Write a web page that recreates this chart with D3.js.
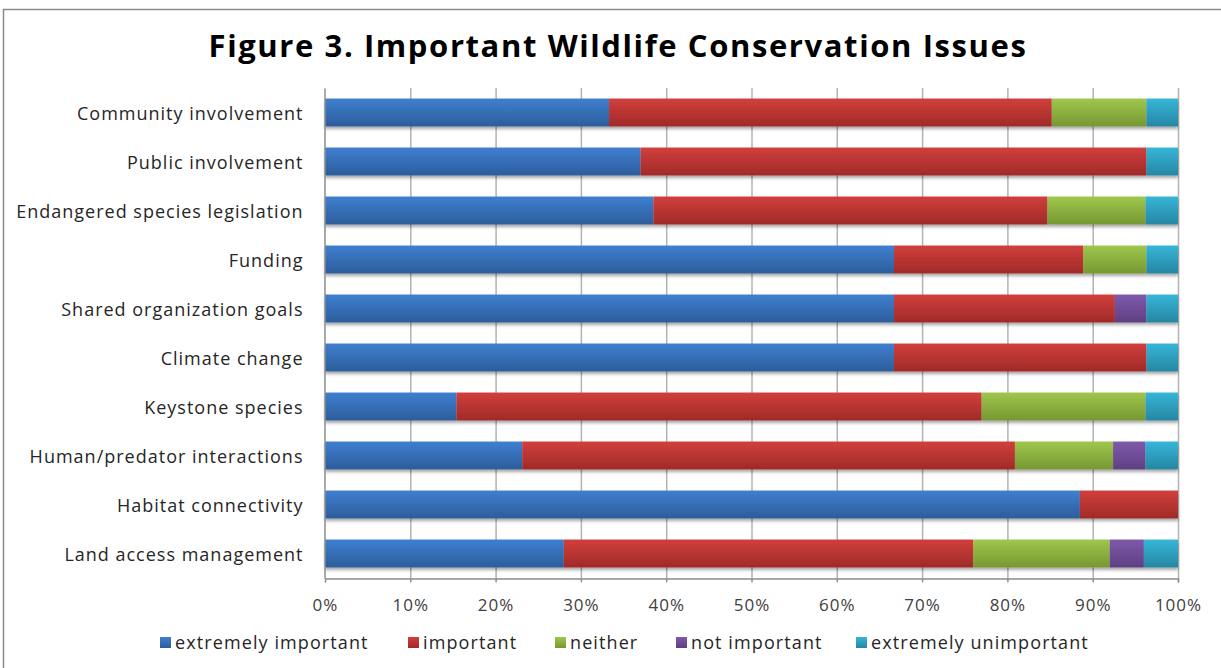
<!DOCTYPE html>
<html>
<head>
<meta charset="utf-8">
<script src="https://cdn.jsdelivr.net/npm/d3@7"></script>
<style>
  body { margin: 0; background: #fff; }
  svg { display: block; font-family: "Open Sans", sans-serif; }
</style>
</head>
<body>
<svg id="chart"></svg>
<script>
// DATA
const categories = [
  "Community involvement",
  "Public involvement",
  "Endangered species legislation",
  "Funding",
  "Shared organization goals",
  "Climate change",
  "Keystone species",
  "Human/predator interactions",
  "Habitat connectivity",
  "Land access management"
];
const seriesNames = ["extremely important", "important", "neither", "not important", "extremely unimportant"];
const extremelyImportant   = [33.3, 37.0, 38.5, 66.7, 66.7, 66.7, 15.4, 23.1, 88.5, 28.0];
const important            = [51.9, 59.3, 46.2, 22.2, 25.9, 29.6, 61.5, 57.7, 11.5, 48.0];
const neither              = [11.1, 0,    11.5, 7.4,  0,    0,    19.2, 11.5, 0,    16.0];
const notImportant         = [0,    0,    0,    0,    3.7,  0,    0,    3.8,  0,    4.0];
const extremelyUnimportant = [3.7,  3.7,  3.8,  3.7,  3.7,  3.7,  3.8,  3.8,  0,    4.0];
const xTicks = [0, 10, 20, 30, 40, 50, 60, 70, 80, 90, 100];

// colours: [top, bottom] of each bar gradient
const colors = [
  ["#3f7fd0", "#2c5d9b"],
  ["#d13f3c", "#a02a28"],
  ["#9fc74c", "#779733"],
  ["#7f59aa", "#5f3f83"],
  ["#36b6d8", "#2686a3"]
];

const width = 1221, height = 668;
const margin = { top: 88, right: 43, bottom: 90, left: 325 };

const svg = d3.select("#chart").attr("width", width).attr("height", height);

// frame
svg.append("rect")
  .attr("x", 3.5).attr("y", 9.5)
  .attr("width", 1240).attr("height", 700)
  .attr("fill", "#fff").attr("stroke", "#8c8c8c").attr("stroke-width", 1.5);

const defs = svg.append("defs");
colors.forEach((c, i) => {
  const g = defs.append("linearGradient").attr("id", "grad" + i)
    .attr("x1", 0).attr("y1", 0).attr("x2", 0).attr("y2", 1);
  g.append("stop").attr("offset", "0%").attr("stop-color", c[0]);
  g.append("stop").attr("offset", "100%").attr("stop-color", c[1]);
});
const shadow = defs.append("filter").attr("id", "shadow")
  .attr("x", "-5%").attr("y", "-30%").attr("width", "110%").attr("height", "180%");
shadow.append("feDropShadow")
  .attr("dx", 0).attr("dy", 2.5).attr("stdDeviation", 1.8)
  .attr("flood-color", "#000").attr("flood-opacity", 0.35);

// table for the stack
const rows = categories.map((c, i) => ({
  category: c,
  [seriesNames[0]]: extremelyImportant[i],
  [seriesNames[1]]: important[i],
  [seriesNames[2]]: neither[i],
  [seriesNames[3]]: notImportant[i],
  [seriesNames[4]]: extremelyUnimportant[i]
}));
const stacked = d3.stack().keys(seriesNames).offset(d3.stackOffsetExpand)(rows);

const x = d3.scaleLinear().domain([0, 1]).range([margin.left, width - margin.right]);
const y = d3.scaleBand().domain(categories)
  .range([margin.top, height - margin.bottom]).paddingInner(0.43).paddingOuter(0.215);

// gridlines
svg.append("g")
  .selectAll("line").data(xTicks.slice(1)).join("line")
  .attr("x1", d => x(d / 100) + 0.5).attr("x2", d => x(d / 100) + 0.5)
  .attr("y1", margin.top).attr("y2", height - margin.bottom + 4)
  .attr("stroke", "#b3b3b3").attr("stroke-width", 1.5);

// bars
const barsG = svg.append("g").attr("filter", "url(#shadow)");
barsG.selectAll("g").data(stacked).join("g")
  .attr("fill", (d, i) => `url(#grad${i})`)
  .selectAll("rect").data(d => d).join("rect")
  .attr("x", d => x(d[0]))
  .attr("width", d => x(d[1]) - x(d[0]))
  .attr("y", d => y(d.data.category))
  .attr("height", y.bandwidth());

// axes
const xAxis = svg.append("g")
  .attr("transform", `translate(0,${height - margin.bottom + 0.5})`)
  .call(d3.axisBottom(x).tickValues(xTicks.map(d => d / 100)).tickFormat(d3.format(".0%")).tickSize(4).tickPadding(16))
  .attr("font-family", null);
xAxis.select(".domain").attr("stroke", "#8c8c8c").attr("stroke-width", 1.5);
xAxis.selectAll(".tick line").attr("stroke", "#8c8c8c");
xAxis.selectAll("text").attr("font-size", 17).attr("letter-spacing", 1).attr("fill", "#404040");

const yAxis = svg.append("g")
  .attr("transform", `translate(${margin.left - 0.5},0)`)
  .call(d3.axisLeft(y).tickSize(0).tickPadding(21))
  .attr("font-family", null);
yAxis.select(".domain").attr("stroke", "#8c8c8c").attr("stroke-width", 1.5);
yAxis.selectAll("text").attr("font-size", 18).attr("letter-spacing", 1).attr("dy", "0.42em").attr("fill", "#262626");

// title
svg.append("text")
  .attr("x", 618).attr("y", 57)
  .attr("text-anchor", "middle")
  .attr("font-size", 31).attr("font-weight", "bold").attr("letter-spacing", 1.6).attr("fill", "#000")
  .text("Figure 3. Important Wildlife Conservation Issues");

// legend
const legendX = [160, 408, 555, 676, 856];
const legend = svg.append("g").selectAll("g").data(seriesNames).join("g")
  .attr("transform", (d, i) => `translate(${legendX[i]},643)`);
legend.append("rect")
  .attr("x", 0).attr("y", -6).attr("width", 11).attr("height", 11)
  .attr("fill", (d, i) => `url(#grad${i})`);
legend.append("text")
  .attr("x", 15).attr("y", 0).attr("dy", "0.35em")
  .attr("font-size", 18).attr("letter-spacing", 1.1).attr("fill", "#262626")
  .text(d => d);
</script>
</body>
</html>
